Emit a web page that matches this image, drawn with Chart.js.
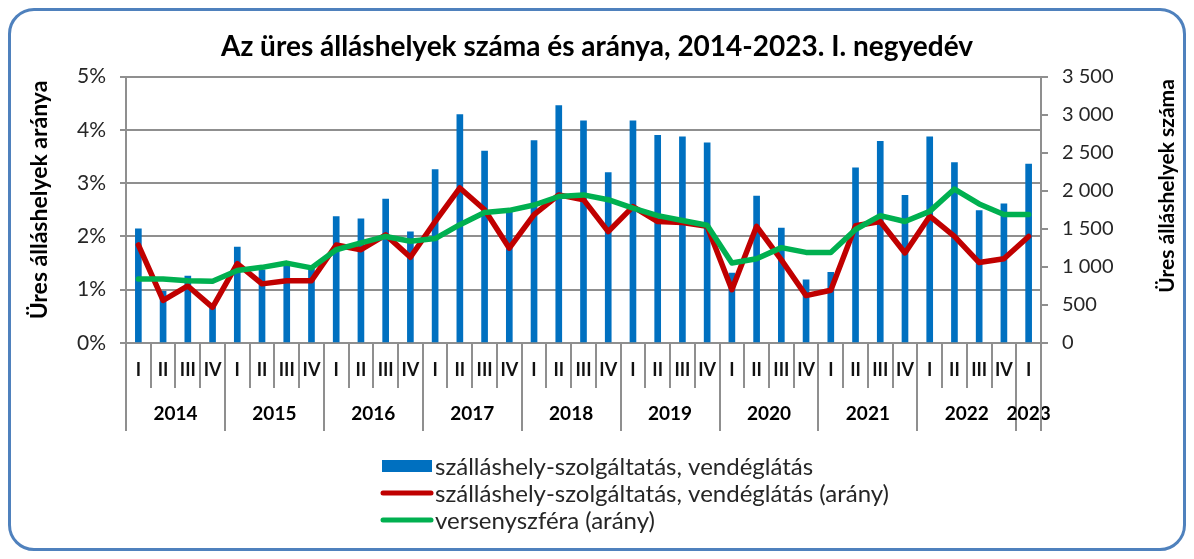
<!DOCTYPE html>
<html>
<head>
<meta charset="utf-8">
<script src="https://cdn.jsdelivr.net/npm/chart.js@4"></script>
<style>
  html, body { margin: 0; padding: 0; background: #fff; }
  #wrap { position: relative; width: 1194px; height: 559px; }
  #frame {
    position: absolute; left: 8px; top: 8px; width: 1178px; height: 543px;
    border: 3px solid #4f81bd; border-radius: 26px; box-sizing: border-box;
  }
  canvas { position: absolute; left: 0; top: 0; }
</style>
</head>
<body>
<div id="wrap">
  <div id="frame"></div>
  <canvas id="chart" width="1194" height="559"></canvas>
</div>
<script>
const quarters = [
  'I','II','III','IV', 'I','II','III','IV', 'I','II','III','IV',
  'I','II','III','IV', 'I','II','III','IV', 'I','II','III','IV',
  'I','II','III','IV', 'I','II','III','IV', 'I','II','III','IV',
  'I'
];
const years = ['2014','2015','2016','2017','2018','2019','2020','2021','2022','2023'];
const quartersPerYear = [4,4,4,4,4,4,4,4,4,1];

// üres álláshelyek száma, szálláshely-szolgáltatás, vendéglátás (jobb tengely)
const vacancies = [
  1500, 680, 880, 500,
  1260, 960, 1020, 1000,
  1660, 1630, 1890, 1460,
  2280, 3000, 2520, 1750,
  2660, 3120, 2920, 2240,
  2920, 2730, 2710, 2630,
  920, 1930, 1510, 830,
  930, 2300, 2650, 1940,
  2710, 2370, 1740, 1830,
  2350
];
// arány, %, bal tengely
const hospitalityRate = [
  1.84, 0.80, 1.07, 0.67,
  1.49, 1.11, 1.17, 1.17,
  1.84, 1.75, 2.03, 1.61,
  2.28, 2.91, 2.50, 1.78,
  2.41, 2.78, 2.69, 2.09,
  2.56, 2.28, 2.26, 2.19,
  1.00, 2.19, 1.56, 0.89,
  0.99, 2.20, 2.28, 1.69,
  2.38, 2.00, 1.51, 1.58,
  2.00
];
const businessRate = [
  1.20, 1.20, 1.17, 1.16,
  1.36, 1.42, 1.50, 1.41,
  1.75, 1.88, 2.00, 1.91,
  1.96, 2.22, 2.45, 2.49,
  2.59, 2.75, 2.78, 2.69,
  2.53, 2.39, 2.30, 2.21,
  1.50, 1.58, 1.79, 1.70,
  1.70, 2.13, 2.39, 2.28,
  2.47, 2.89, 2.61, 2.41,
  2.41
];

const FONT = 'Lato, "Open Sans", sans-serif';
const GRID = '#8f8f8f';
const TEXT = '#262626';

function fmtThousands(v) {
  if (v < 1000) return String(v);
  return Math.floor(v / 1000) + ' ' + String(v % 1000).padStart(3, '0');
}

// évek, hosszabb elválasztók, tengelycímek és jelmagyarázat
const extras = {
  id: 'extras',
  afterDraw(chart) {
    const ctx = chart.ctx;
    const x = chart.scales.x;
    const area = chart.chartArea;
    const w = x.getPixelForValue(1) - x.getPixelForValue(0);
    const edge = k => x.getPixelForValue(0) - w / 2 + k * w;

    ctx.save();
    ctx.strokeStyle = GRID;
    ctx.lineWidth = 2;
    ctx.fillStyle = '#000';
    ctx.font = 'bold 19px ' + FONT;
    ctx.textAlign = 'center';
    ctx.textBaseline = 'middle';
    let k = 0;
    years.forEach((yr, i) => {
      const a = edge(k), b = edge(k + quartersPerYear[i]);
      ctx.beginPath();
      ctx.moveTo(Math.round(a), area.bottom);
      ctx.lineTo(Math.round(a), 431);
      ctx.stroke();
      ctx.fillText(yr, (a + b) / 2, 414);
      k += quartersPerYear[i];
    });
    ctx.beginPath();
    ctx.moveTo(Math.round(edge(k)), area.bottom);
    ctx.lineTo(Math.round(edge(k)), 431);
    ctx.stroke();

    // tengelycímek
    ctx.font = 'bold 23px ' + FONT;
    ctx.save();
    ctx.translate(40, 200);
    ctx.rotate(-Math.PI / 2);
    ctx.fillText('Üres álláshelyek aránya', 0, 0);
    ctx.restore();
    ctx.font = 'bold 21px ' + FONT;
    ctx.save();
    ctx.translate(1167, 186);
    ctx.rotate(-Math.PI / 2);
    ctx.fillText('Üres álláshelyek száma', 0, 0);
    ctx.restore();

    // jelmagyarázat
    ctx.font = '24px ' + FONT;
    ctx.textAlign = 'left';
    chart.data.datasets.forEach((ds, i) => {
      const y = 466 + i * 27;
      if (ds.type === 'bar') {
        ctx.fillStyle = ds.backgroundColor;
        ctx.fillRect(382, y - 6, 50, 12);
      } else {
        ctx.strokeStyle = ds.borderColor;
        ctx.lineWidth = 5;
        ctx.lineCap = 'round';
        ctx.beginPath();
        ctx.moveTo(383, y);
        ctx.lineTo(431, y);
        ctx.stroke();
      }
      ctx.fillStyle = TEXT;
      ctx.fillText(ds.label, 435, y + 1);
    });
    ctx.restore();
  }
};

new Chart(document.getElementById('chart'), {
  type: 'bar',
  data: {
    labels: quarters,
    datasets: [
      {
        type: 'bar',
        label: 'szálláshely-szolgáltatás, vendéglátás',
        data: vacancies,
        yAxisID: 'y1',
        backgroundColor: '#0070c0',
        barThickness: 6,
        order: 3
      },
      {
        type: 'line',
        label: 'szálláshely-szolgáltatás, vendéglátás (arány)',
        data: hospitalityRate,
        yAxisID: 'y',
        borderColor: '#c00000',
        borderWidth: 5.5,
        borderJoinStyle: 'round',
        borderCapStyle: 'round',
        pointRadius: 0,
        tension: 0,
        order: 2
      },
      {
        type: 'line',
        label: 'versenyszféra (arány)',
        data: businessRate,
        yAxisID: 'y',
        borderColor: '#00b050',
        borderWidth: 5.5,
        borderJoinStyle: 'round',
        borderCapStyle: 'round',
        pointRadius: 0,
        tension: 0,
        order: 1
      }
    ]
  },
  options: {
    responsive: false,
    animation: false,
    layout: { padding: 0 },
    plugins: {
      legend: { display: false },
      tooltip: { enabled: false },
      title: {
        display: true,
        text: 'Az üres álláshelyek száma és aránya, 2014-2023. I. negyedév',
        color: '#000',
        font: { family: FONT, size: 28, weight: 'bold' },
        padding: { top: 30, bottom: 13 }
      }
    },
    scales: {
      x: {
        grid: { drawOnChartArea: false, tickLength: 45, color: GRID, lineWidth: 2 },
        border: { color: GRID, width: 2 },
        ticks: {
          autoSkip: false, maxRotation: 0, padding: -29, color: '#111',
          font: { family: FONT, size: 18, weight: 'bold' }
        },
        afterFit: s => { s.height = 216; }
      },
      y: {
        position: 'left',
        min: 0, max: 5,
        ticks: {
          stepSize: 1, padding: 14, color: TEXT,
          font: { family: FONT, size: 21 },
          callback: v => v + '%'
        },
        grid: { color: GRID, lineWidth: 2, tickLength: 6 },
        border: { color: GRID, width: 2 },
        afterFit: s => { s.width = 126; }
      },
      y1: {
        position: 'right',
        min: 0, max: 3500,
        ticks: {
          stepSize: 500, padding: 14, color: TEXT,
          font: { family: FONT, size: 20 },
          callback: v => fmtThousands(v)
        },
        grid: { drawOnChartArea: false, color: GRID, lineWidth: 2, tickLength: 7 },
        border: { color: GRID, width: 2 },
        afterFit: s => { s.width = 153; }
      }
    }
  },
  plugins: [extras]
});
</script>
</body>
</html>
